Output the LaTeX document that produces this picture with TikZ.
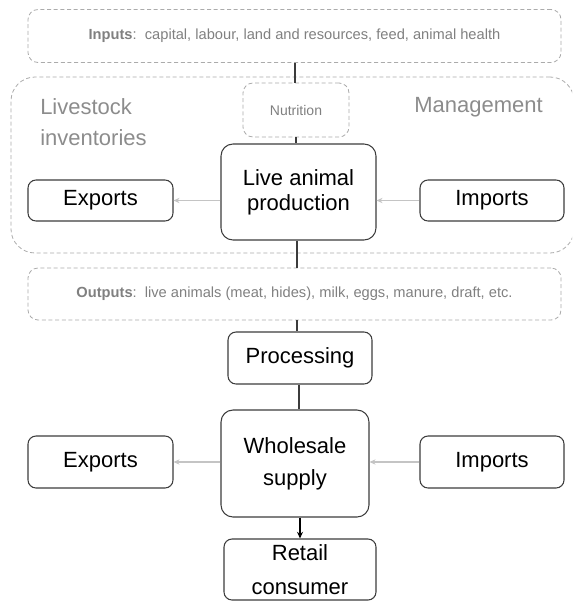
\documentclass[tikz,border=0pt]{standalone}
\usepackage{fontspec}
\setmainfont{Liberation Sans}
\usetikzlibrary{arrows.meta}
\definecolor{dashgray}{HTML}{ABABAB}
\definecolor{labelgray}{HTML}{808080}
\definecolor{headgray}{HTML}{8C8C8C}
\definecolor{flowgray}{HTML}{C4C4C4}
\definecolor{boxedge}{HTML}{3C3C3C}
\begin{document}
\begin{tikzpicture}[x=0.75pt,y=-0.75pt,
  dashbox/.style={draw=dashgray, dash pattern=on 3pt off 2pt, line width=0.6pt,
    rounded corners=7.5pt, inner sep=0pt, anchor=center},
  mainbox/.style={draw=boxedge, line width=0.8pt, rounded corners=6pt, inner sep=0pt,
    align=center, anchor=center, font=\fontsize{16.5}{19}\selectfont},
  smalltext/.style={text=labelgray, font=\fontsize{11}{13}\selectfont},
  bigtext/.style={text=headgray, font=\fontsize{16.5}{23}\selectfont, align=left, inner sep=0pt},
  link/.style={draw=boxedge, line width=0.8pt},
  sideflow/.style={draw=flowgray, line width=1pt, -{Stealth[length=4.5pt,width=4pt]}},
  downflow/.style={draw=black, line width=0.8pt, -{Stealth[length=5pt,width=4.5pt]}}]
\useasboundingbox (0,0) rectangle (572,603);
\begin{scope}
\clip (0,0) rectangle (572,603);
% livestock system region (runs past the right margin)
\node[dashbox, rounded corners=18pt, minimum width=422.25pt, minimum height=132pt] (region) at (292.5,165) {};
\end{scope}

% dashed input / output bands
\node[dashbox, minimum width=399.75pt, minimum height=39.75pt, smalltext] (inputs) at (294.5,36)
  {\textbf{Inputs}:\ \ capital, labour, land and resources, feed, animal health};
\node[dashbox, minimum width=399.75pt, minimum height=39pt, smalltext] (outputs) at (294.5,294)
  {\textbf{Outputs}:\ \ live animals (meat, hides), milk, eggs, manure, draft, etc.};
\node[dashbox, minimum width=79.5pt, minimum height=40.5pt, text=labelgray,
  font=\fontsize{10.5}{12}\selectfont] (nutrition) at (296,110) {Nutrition};

% region headings
\node[bigtext, anchor=west] (inventories) at (40,122) {Livestock\\inventories};
\node[bigtext, anchor=west] (management) at (414,107) {Management};

% production stage
\node[mainbox, rounded corners=9pt, minimum width=116.25pt, minimum height=72pt] (lap) at (298.5,192) {Live animal\\production};
\node[mainbox, minimum width=108.75pt, minimum height=30.75pt] (expA) at (100.5,200.5) {Exports};
\node[mainbox, minimum width=108pt, minimum height=30.75pt] (impA) at (492,200.5) {Imports};

% supply chain
\node[mainbox, minimum width=108pt, minimum height=39pt] (proc) at (300,358) {Processing};
\node[mainbox, rounded corners=9pt, minimum width=111pt, minimum height=80.25pt,
  font=\fontsize{16.5}{24}\selectfont] (whole) at (295,463.5) {Wholesale\\supply};
\node[mainbox, minimum width=108.75pt, minimum height=39pt] (expB) at (100.5,462) {Exports};
\node[mainbox, minimum width=108pt, minimum height=39pt] (impB) at (492,462) {Imports};
\node[mainbox, minimum width=114pt, minimum height=45.75pt,
  font=\fontsize{16.5}{25}\selectfont] (retail) at (300,569.5) {Retail\\consumer};

% vertical links
\draw[link] (inputs.south -| 295,0) -- (nutrition.north -| 295,0);
\draw[link] (nutrition.south -| 296,0) -- (lap.north -| 296,0);
\draw[link] (lap.south -| 297,0) -- (outputs.north -| 297,0);
\draw[link] (outputs.south -| 297,0) -- (proc.north -| 297,0);
\draw[link] (proc.south -| 299,0) -- (whole.north -| 299,0);
\draw[downflow] (whole.south -| 300,0) -- (retail.north -| 300,0);

% trade flows
\draw[sideflow] (lap.west |- expA) -- (expA.east);
\draw[sideflow] (impA.west) -- (lap.east |- impA);
\draw[sideflow] (whole.west |- expB) -- (expB.east);
\draw[sideflow] (impB.west) -- (whole.east |- impB);
\end{tikzpicture}
\end{document}
